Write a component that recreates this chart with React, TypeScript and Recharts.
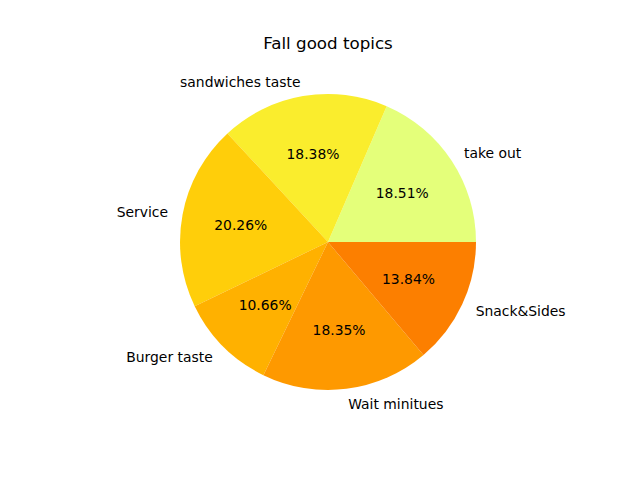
import React from 'react';
import { PieChart, Pie, Cell } from 'recharts';

const categories = ['take out', 'sandwiches taste', 'Service', 'Burger taste', 'Wait minitues', 'Snack&Sides'];
const values = [18.51, 18.38, 20.26, 10.66, 18.35, 13.84];
const colors = ['#e4ff7a', '#faed2d', '#ffce0a', '#ffb100', '#fe9900', '#fc7f00'];
const title = 'Fall good topics';

const data = categories.map((name, i) => ({ name, value: values[i] }));
const RADIAN = Math.PI / 180;
const FONT = 'DejaVu Sans, sans-serif';

const renderLabel = (props: any) => {
  const { cx, cy, midAngle, outerRadius, percent, name } = props;
  const cos = Math.cos(-midAngle * RADIAN);
  const sin = Math.sin(-midAngle * RADIAN);
  const lx = cx + outerRadius * 1.1 * cos;
  const ly = cy + outerRadius * 1.1 * sin;
  const px = cx + outerRadius * 0.6 * cos;
  const py = cy + outerRadius * 0.6 * sin;
  return (
    <g>
      <text x={lx} y={ly} textAnchor={cos >= 0 ? 'start' : 'end'} dominantBaseline="central"
        fontFamily={FONT} fontSize={13.9} fill="#000">{name}</text>
      <text x={px} y={py} textAnchor="middle" dominantBaseline="central"
        fontFamily={FONT} fontSize={13.9} fill="#000">{(percent * 100).toFixed(2)}%</text>
    </g>
  );
};

export default function App() {
  return (
    <div style={{ position: 'absolute', left: 0, top: 0, width: 640, height: 480, background: '#fff' }}>
      <PieChart width={640} height={480} margin={{ top: 0, right: 0, bottom: 0, left: 0 }}>
        <text x={328} y={43} textAnchor="middle" dominantBaseline="central" fontFamily={FONT} fontSize={16.7} fill="#000">{title}</text>
        <Pie data={data} dataKey="value" nameKey="name" cx={328} cy={242} outerRadius={148}
          startAngle={0} endAngle={360} stroke="none" label={renderLabel} labelLine={false}
          isAnimationActive={false}>
          {data.map((d, i) => (
            <Cell key={d.name} fill={colors[i]} />
          ))}
        </Pie>
      </PieChart>
    </div>
  );
}
